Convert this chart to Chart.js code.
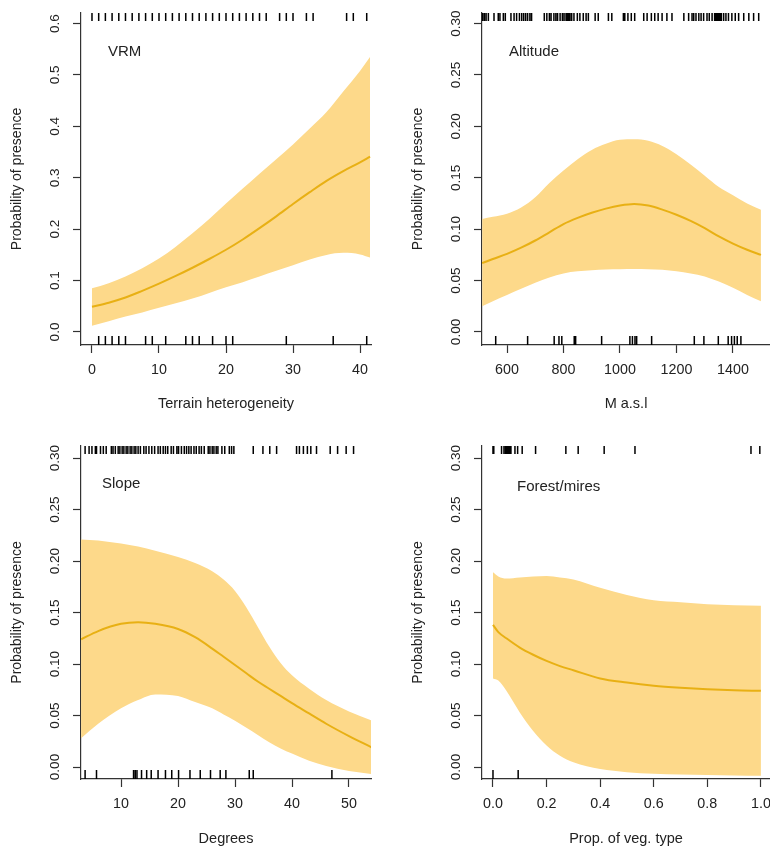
<!DOCTYPE html>
<html>
<head>
<meta charset="utf-8">
<title>Probability of presence</title>
<script src="https://cdn.jsdelivr.net/npm/chart.js@4.4.1/dist/chart.umd.min.js"></script>
<style>
  html, body { margin: 0; padding: 0; background: #fff; }
  #painel { position: relative; width: 770px; height: 850px; overflow: hidden; }
  #painel canvas { position: absolute; }
</style>
</head>
<body>
<div id="painel">
  <canvas id="cVrm" width="385" height="425" style="left:0;top:0"></canvas>
  <canvas id="cAlt" width="385" height="425" style="left:385px;top:0"></canvas>
  <canvas id="cSlope" width="385" height="425" style="left:0;top:425px"></canvas>
  <canvas id="cForest" width="385" height="425" style="left:385px;top:425px"></canvas>
</div>
<script>
// --- Dados (x, ajuste, limites do intervalo, rugs, ticks) ---

// VRM
const vrmX     = [0, 2.5, 5, 7.5, 10, 12.5, 15, 17.5, 20, 22.5, 25, 27.5, 30, 32.5, 35, 37.5, 40, 41.5];
const vrmFit   = [0.049, 0.057, 0.067, 0.080, 0.094, 0.109, 0.125, 0.142, 0.160, 0.180, 0.202, 0.225, 0.249, 0.272, 0.294, 0.313, 0.330, 0.341];
const vrmUpper = [0.085, 0.095, 0.108, 0.124, 0.143, 0.166, 0.192, 0.220, 0.250, 0.279, 0.308, 0.336, 0.365, 0.396, 0.428, 0.468, 0.508, 0.535];
const vrmLower = [0.012, 0.021, 0.030, 0.038, 0.047, 0.056, 0.065, 0.076, 0.087, 0.097, 0.108, 0.119, 0.130, 0.141, 0.150, 0.154, 0.151, 0.145];
const vrmRugTop = [0, 1, 2, 3, 4, 5, 6, 7, 8, 9, 10, 11, 12, 13, 14, 15, 16, 17, 18, 19, 20, 21, 22, 23, 24, 25, 26,
                   28, 29, 30, 32, 33, 38, 39, 41];
const vrmRugBottom = [1, 2, 3, 4, 5, 8, 9, 11, 14, 15, 16, 18, 20, 21, 29, 36, 41];
const vrmTicksX = [0, 10, 20, 30, 40];
const vrmTicksY = [0, 0.1, 0.2, 0.3, 0.4, 0.5, 0.6];

// Altitude
const altX     = [512, 550, 600, 650, 700, 750, 800, 850, 900, 950, 1000, 1050, 1100, 1150, 1200, 1250, 1300, 1350, 1400, 1450, 1499];
const altFit   = [0.067, 0.071, 0.076, 0.082, 0.089, 0.097, 0.105, 0.111, 0.116, 0.120, 0.123, 0.1245, 0.123, 0.119, 0.114, 0.108, 0.101, 0.093, 0.086, 0.080, 0.075];
const altUpper = [0.110, 0.112, 0.115, 0.121, 0.131, 0.145, 0.157, 0.168, 0.177, 0.183, 0.187, 0.1875, 0.186, 0.181, 0.173, 0.163, 0.152, 0.141, 0.133, 0.125, 0.119];
const altLower = [0.025, 0.030, 0.036, 0.042, 0.048, 0.053, 0.057, 0.059, 0.060, 0.0608, 0.061, 0.0613, 0.061, 0.0605, 0.059, 0.057, 0.054, 0.049, 0.043, 0.036, 0.030];
const altRugTop = [514, 520, 526, 534, 554, 569, 575, 587, 594, 614, 625, 634, 644, 652, 659, 666, 673, 681, 687,
                   732, 741, 750, 756, 766, 773, 779, 788, 796, 802, 809, 813, 818, 823, 829, 837, 849, 858, 870,
                   880, 888, 912, 923, 959, 971, 1012, 1017, 1028, 1040, 1052, 1084, 1096, 1111, 1123, 1135, 1149,
                   1166, 1184, 1226, 1243, 1255, 1261, 1269, 1279, 1287, 1296, 1308, 1316, 1326, 1335, 1340, 1344,
                   1349, 1354, 1359, 1367, 1375, 1384, 1396, 1408, 1420, 1438, 1456, 1473, 1491];
const altRugBottom = [560, 673, 767, 784, 794, 838, 843, 935, 1035, 1044, 1053, 1059, 1112, 1263, 1297, 1348,
                      1383, 1395, 1405, 1415, 1428];
const altTicksX = [600, 800, 1000, 1200, 1400];

// Slope
const slopeX     = [3, 6, 10, 13, 16, 20, 23, 26, 28, 30, 32, 34, 36, 38, 40, 43, 46, 50, 54];
const slopeFit   = [0.124, 0.132, 0.139, 0.1405, 0.139, 0.134, 0.126, 0.115, 0.107, 0.099, 0.091, 0.083, 0.076, 0.069, 0.062, 0.052, 0.042, 0.030, 0.019];
const slopeUpper = [0.221, 0.220, 0.217, 0.214, 0.210, 0.204, 0.198, 0.190, 0.182, 0.171, 0.155, 0.136, 0.117, 0.101, 0.089, 0.076, 0.065, 0.054, 0.045];
const slopeLower = [0.028, 0.042, 0.057, 0.065, 0.0705, 0.069, 0.063, 0.057, 0.051, 0.045, 0.038, 0.031, 0.024, 0.018, 0.013, 0.006, 0.001, -0.004, -0.007];
const slopeRugTop = [3.7, 4.4, 4.9, 5.5, 5.7, 6.4, 6.9, 7.4, 8.3, 8.6, 9.0, 9.5, 9.8, 10.2, 10.5, 10.9, 11.2, 11.6,
                     11.9, 12.3, 12.6, 13.0, 13.4, 14.0, 14.4, 14.9, 15.4, 15.9, 16.5, 16.9, 17.4, 17.8, 18.2, 18.8,
                     19.2, 19.8, 20.1, 20.6, 21.1, 21.5, 21.9, 22.3, 22.8, 23.2, 23.7, 24.1, 24.6, 25.3, 25.6, 26.0,
                     26.3, 26.7, 27.0, 27.7, 28.2, 29.0, 29.4, 29.8, 33.2, 34.9, 36.1, 37.3, 40.8, 41.3, 42.0, 42.7,
                     43.3, 44.3, 46.7, 48.0, 49.5, 50.8];
const slopeRugBottom = [3.7, 5.7, 12.2, 12.5, 12.8, 13.6, 14.5, 15.3, 16.5, 17.8, 18.9, 20.1, 22.1, 23.9, 25.7,
                        27.4, 28.4, 32.5, 33.2, 47.0];
const slopeTicksX = [10, 20, 30, 40, 50];

// Forest/mires
const forestX     = [0, 0.02, 0.05, 0.1, 0.15, 0.2, 0.25, 0.3, 0.4, 0.5, 0.6, 0.7, 0.8, 0.9, 1.0];
const forestFit   = [0.138, 0.131, 0.125, 0.116, 0.109, 0.103, 0.098, 0.094, 0.086, 0.082, 0.079, 0.077, 0.0755, 0.0745, 0.074];
const forestUpper = [0.189, 0.185, 0.183, 0.184, 0.185, 0.1855, 0.184, 0.182, 0.174, 0.167, 0.162, 0.160, 0.158, 0.157, 0.1565];
const forestLower = [0.086, 0.084, 0.074, 0.053, 0.035, 0.021, 0.011, 0.0045, -0.002, -0.005, -0.0065, -0.0072, -0.0078, -0.0082, -0.0085];
const forestRugTop = [0, 0.003, 0.032, 0.041, 0.047, 0.052, 0.057, 0.062, 0.067, 0.082, 0.092, 0.109, 0.159,
                      0.272, 0.318, 0.415, 0.53, 0.963, 0.996];
const forestRugBottom = [0, 0.094];
const forestTicksX = [0, 0.2, 0.4, 0.6, 0.8, 1.0];

// eixo y comum aos paineis 2-4
const probTicksY = [0, 0.05, 0.10, 0.15, 0.20, 0.25, 0.30];

// --- Estilo ---
const COR_BANDA = '#fdd98a';
const COR_LINHA = '#e8b014';
const COR_EIXO = '#333333';
const COR_TEXTO = '#222222';

Chart.defaults.font.family = '"Liberation Sans", Arial, sans-serif';
Chart.defaults.color = COR_TEXTO;

// rug: tracos curtos nas bordas de cima/baixo, posicionados pela escala x
const rugPlugin = {
  id: 'rug',
  afterDatasetsDraw(chart, args, opts){
    const {ctx, chartArea} = chart;
    const xs = chart.scales.x;
    ctx.save();
    ctx.strokeStyle = '#000';
    ctx.lineWidth = 1.5;
    ctx.beginPath();
    (opts.top || []).forEach(v => {
      const px = xs.getPixelForValue(v);
      ctx.moveTo(px, chartArea.top);
      ctx.lineTo(px, chartArea.top + 8);
    });
    (opts.bottom || []).forEach(v => {
      const px = xs.getPixelForValue(v);
      ctx.moveTo(px, chartArea.bottom);
      ctx.lineTo(px, chartArea.bottom - 9);
    });
    ctx.stroke();
    ctx.restore();
  }
};

// titulo de cada painel, dentro da area do grafico
const rotuloPlugin = {
  id: 'rotulo',
  afterDraw(chart, args, opts){
    if(!opts.text) return;
    const {ctx, chartArea} = chart;
    ctx.save();
    ctx.font = '15px "Liberation Sans", Arial, sans-serif';
    ctx.fillStyle = COR_TEXTO;
    ctx.textAlign = 'left';
    ctx.textBaseline = 'middle';
    ctx.fillText(opts.text, chartArea.left + opts.dx, chartArea.top + opts.dy);
    ctx.restore();
  }
};

const pts = (xs, ys) => xs.map((v, i) => ({ x: v, y: ys[i] }));
const fixarTicks = lista => s => { s.ticks = lista.map(v => ({ value: v })); };

function criarPainel(id, p){
  return new Chart(document.getElementById(id), {
    type: 'line',
    data: {
      datasets: [
        // 0: ajuste (desenhado por cima)
        { data: pts(p.x, p.fit), borderColor: COR_LINHA, borderWidth: 2, pointRadius: 0, fill: false, cubicInterpolationMode: 'monotone' },
        // 1-2: intervalo de confianca
        { data: pts(p.x, p.upper), borderWidth: 0, borderColor: 'rgba(0,0,0,0)', pointRadius: 0, fill: '+1', backgroundColor: COR_BANDA, cubicInterpolationMode: 'monotone' },
        { data: pts(p.x, p.lower), borderWidth: 0, borderColor: 'rgba(0,0,0,0)', pointRadius: 0, fill: false, cubicInterpolationMode: 'monotone' }
      ]
    },
    options: {
      responsive: false,
      animation: false,
      events: [],
      layout: { padding: p.padding },
      plugins: {
        legend: { display: false },
        tooltip: { enabled: false },
        rug: { top: p.rugTop, bottom: p.rugBottom },
        rotulo: p.rotulo
      },
      scales: {
        x: {
          type: 'linear', min: p.xMin, max: p.xMax,
          afterBuildTicks: fixarTicks(p.ticksX),
          border: { display: true, color: COR_EIXO, width: 1.2 },
          grid: { drawOnChartArea: false, drawTicks: true, tickLength: 8, tickColor: COR_EIXO, tickWidth: 1.2 },
          ticks: { autoSkip: false, maxRotation: 0, padding: 8.8,
                   color: COR_TEXTO, font: { size: 14.3 }, callback: v => p.xFmt(v) },
          title: { display: true, text: p.xTitle, color: COR_TEXTO, font: { size: 14.5 }, padding: { top: 0, bottom: p.xTitlePad } },
          afterFit: s => { s.height = p.xHeight; s.paddingLeft = 0; s.paddingRight = 0; }
        },
        y: {
          type: 'linear', min: p.yMin, max: p.yMax,
          afterBuildTicks: fixarTicks(p.ticksY),
          border: { display: true, color: COR_EIXO, width: 1.2 },
          grid: { drawOnChartArea: false, drawTicks: true, tickLength: 8, tickColor: COR_EIXO, tickWidth: 1.2 },
          ticks: { autoSkip: false, minRotation: 90, maxRotation: 90,
                   crossAlign: 'center', padding: p.yTickPad, color: COR_TEXTO, font: { size: 13.5 },
                   callback: v => v.toFixed(p.yDec) },
          title: { display: true, text: 'Probability of presence', color: COR_TEXTO, font: { size: 14 }, padding: { top: 8.6, bottom: 0 } },
          afterFit: s => { s.width = 81; s.paddingTop = 0; s.paddingBottom = 0; }
        }
      }
    },
    plugins: [rugPlugin, rotuloPlugin]
  });
}

let chartsInstances = {};

// 1. VRM
chartsInstances.vrm = criarPainel('cVrm', {
  x: vrmX, fit: vrmFit, upper: vrmUpper, lower: vrmLower, rugTop: vrmRugTop, rugBottom: vrmRugBottom,
  xMin: -1.64, xMax: 41.64, ticksX: vrmTicksX, xFmt: v => String(v), xTitle: 'Terrain heterogeneity',
  yMin: -0.0253, yMax: 0.6206, ticksY: vrmTicksY, yDec: 1, yTickPad: 8.6,
  padding: { left: 0, right: 14, top: 13, bottom: 0 }, xHeight: 80, xTitlePad: 12.3,
  rotulo: { text: 'VRM', dx: 27, dy: 39 }
});

// 2. Altitude
chartsInstances.alt = criarPainel('cAlt', {
  x: altX, fit: altFit, upper: altUpper, lower: altLower, rugTop: altRugTop, rugBottom: altRugBottom,
  xMin: 511.5, xMax: 1531, ticksX: altTicksX, xFmt: v => String(v), xTitle: 'M a.s.l',
  yMin: -0.01265, yMax: 0.3103, ticksY: probTicksY, yDec: 2, yTickPad: 4.9,
  padding: { left: 16, right: 0, top: 13, bottom: 0 }, xHeight: 80, xTitlePad: 12.3,
  rotulo: { text: 'Altitude', dx: 27, dy: 39 }
});

// 3. Slope
chartsInstances.slope = criarPainel('cSlope', {
  x: slopeX, fit: slopeFit, upper: slopeUpper, lower: slopeLower, rugTop: slopeRugTop, rugBottom: slopeRugBottom,
  xMin: 2.98, xMax: 53.86, ticksX: slopeTicksX, xFmt: v => String(v), xTitle: 'Degrees',
  yMin: -0.01165, yMax: 0.3117, ticksY: probTicksY, yDec: 2, yTickPad: 4.9,
  padding: { left: 0, right: 14, top: 21, bottom: 0 }, xHeight: 71, xTitlePad: 2.3,
  rotulo: { text: 'Slope', dx: 21, dy: 38 }
});

// 4. Forest/mires
chartsInstances.forest = criarPainel('cForest', {
  x: forestX, fit: forestFit, upper: forestUpper, lower: forestLower, rugTop: forestRugTop, rugBottom: forestRugBottom,
  xMin: -0.041, xMax: 1.034, ticksX: forestTicksX, xFmt: v => v.toFixed(1), xTitle: 'Prop. of veg. type',
  yMin: -0.01165, yMax: 0.3117, ticksY: probTicksY, yDec: 2, yTickPad: 4.9,
  padding: { left: 16, right: 0, top: 21, bottom: 0 }, xHeight: 71, xTitlePad: 2.3,
  rotulo: { text: 'Forest/mires', dx: 35, dy: 41 }
});
</script>
</body>
</html>
